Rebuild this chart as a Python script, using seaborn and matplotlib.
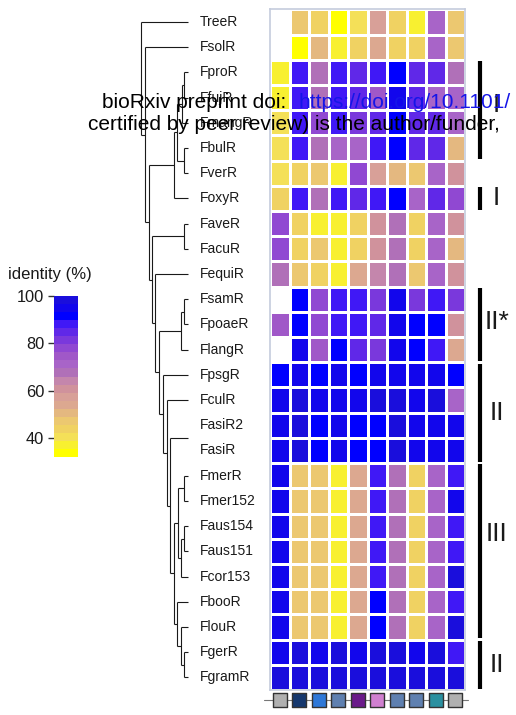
import numpy as np
import pandas as pd
import matplotlib
matplotlib.use("Agg")
import matplotlib.pyplot as plt
import seaborn as sns
from matplotlib.colors import ListedColormap

# ---------------- data ----------------
strains = ["TreeR", "FsolR", "FproR", "FfujR", "FmangR", "FbulR", "FverR", "FoxyR",
           "FaveR", "FacuR", "FequiR", "FsamR", "FpoaeR", "FlangR", "FpsgR", "FculR",
           "FasiR2", "FasiR", "FmerR", "Fmer152", "Faus154", "Faus151", "Fcor153",
           "FbooR", "FlouR", "FgerR", "FgramR"]
loci = [f"locus{i}" for i in range(1, 11)]
nan = np.nan
identity = [
    [nan, 47, 44, 34, 41, 57, 44, 37, 71, 47],   # TreeR
    [nan, 34, 51, 37, 44, 54, 44, 44, 71, 47],   # FsolR
    [37, 88, 68, 88, 85, 88, 91, 85, 85, 68],    # FproR
    [37, 88, 68, 88, 85, 74, 95, 85, 71, 71],    # FfujR
    [41, 88, 78, 88, 81, 85, 91, 85, 85, 71],    # FmangR
    [41, 88, 68, 71, 71, 88, 91, 85, 85, 51],    # FbulR
    [41, 44, 47, 37, 78, 57, 51, 47, 71, 61],    # FverR
    [44, 88, 68, 88, 85, 88, 91, 71, 85, 78],    # FoxyR
    [78, 44, 37, 37, 44, 61, 68, 44, 71, 61],    # FaveR
    [78, 44, 47, 37, 44, 61, 68, 44, 71, 51],    # FacuR
    [68, 47, 44, 37, 54, 64, 68, 47, 71, 61],    # FequiR
    [nan, 91, 78, 88, 88, 81, 95, 81, 88, 81],   # FsamR
    [74, 91, 78, 88, 88, 85, 95, 91, 91, 61],    # FpoaeR
    [nan, 95, 74, 91, 85, 81, 95, 91, 88, 54],   # FlangR
    [91, 95, 91, 95, 91, 95, 95, 95, 95, 91],    # FpsgR
    [95, 98, 95, 95, 95, 98, 98, 95, 98, 71],    # FculR
    [95, 98, 91, 95, 91, 91, 98, 95, 95, 95],    # FasiR2
    [95, 98, 91, 95, 91, 91, 98, 95, 95, 95],    # FasiR
    [95, 47, 47, 37, 54, 88, 68, 44, 71, 88],    # FmerR
    [95, 47, 47, 37, 54, 88, 68, 44, 71, 95],    # Fmer152
    [95, 47, 47, 37, 54, 88, 68, 44, 71, 88],    # Faus154
    [95, 47, 47, 37, 54, 88, 68, 44, 71, 88],    # Faus151
    [95, 47, 47, 37, 54, 88, 68, 44, 71, 98],    # Fcor153
    [95, 47, 47, 37, 54, 91, 68, 44, 71, 88],    # FbooR
    [95, 47, 47, 37, 54, 91, 68, 44, 71, 98],    # FlouR
    [95, 98, 95, 98, 95, 98, 98, 95, 98, 88],    # FgerR
    [98, 98, 98, 98, 98, 98, 98, 98, 98, 98],    # FgramR
]

# dendrogram merges: (node, child_a, child_b, height)
merges = [
    ("c1", "FproR", "FfujR", 4.0),
    ("c2", "c1", "FmangR", 6.6),
    ("c3", "FbulR", "FverR", 4.0),
    ("c4", "c2", "c3", 11.0),
    ("c5", "c4", "FoxyR", 14.6),
    ("c6", "FaveR", "FacuR", 4.0),
    ("c7", "FsamR", "FpoaeR", 4.0),
    ("c8", "c7", "FlangR", 7.6),
    ("c9", "FasiR2", "FasiR", 0.0),
    ("c10", "FmerR", "Fmer152", 4.0),
    ("c11", "Faus154", "Faus151", 4.0),
    ("c12", "c11", "Fcor153", 7.3),
    ("c13", "c10", "c12", 10.6),
    ("c14", "FgerR", "FgramR", 4.0),
    ("c15", "FlouR", "c14", 7.6),
    ("c16", "FbooR", "c15", 11.3),
    ("c17", "c13", "c16", 14.6),
    ("c18", "c9", "c17", 18.3),
    ("c19", "FculR", "c18", 21.6),
    ("c20", "FpsgR", "c19", 25.0),
    ("c21", "c8", "c20", 29.0),
    ("c22", "FequiR", "c21", 33.3),
    ("c23", "c6", "c22", 36.6),
    ("c24", "c5", "c23", 39.6),
    ("c25", "FsolR", "c24", 43.0),
    ("c26", "TreeR", "c25", 47.0),
]

group_labels = ["I", "I", "II*", "II", "III", "II"]
group_first = ["FproR", "FoxyR", "FsamR", "FpsgR", "FmerR", "FgerR"]
group_last = ["FbulR", "FoxyR", "FlangR", "FasiR", "FlouR", "FgramR"]

locus_colors = ["#B0B0B0", "#16386E", "#2E78D8", "#5F80B0", "#6A1A8A",
                "#D080D0", "#5F80B0", "#5F80B0", "#2A90A0", "#B0B0B0"]

scale_colors = ["#FFFF00", "#F8F030", "#F4E058", "#F0D262", "#ECC870",
                "#E4B880", "#DCA890", "#D8A098", "#D0929C", "#C486AC",
                "#B070B8", "#A864C8", "#A058C8", "#9048D2", "#7A38DC",
                "#6028E8", "#4018F6", "#0000FF", "#1206EC", "#1A0EDC"]
scale_min, scale_max = 32.2, 100

# ---------------- figure ----------------
sns.set_style("white")
plt.rcParams["font.family"] = ["Liberation Sans", "DejaVu Sans"]

W, H = 516, 715
fig = plt.figure(figsize=(W / 100, H / 100), dpi=100)

def box(x0, y0, x1, y1):
    return [x0 / W, 1 - y1 / H, (x1 - x0) / W, (y1 - y0) / H]

ax = fig.add_axes(box(270, 9.3, 465, 690))
tax = fig.add_axes(box(120, 9.3, 270, 690))
cax = fig.add_axes(box(54, 296, 78, 457))

df = pd.DataFrame(identity, index=strains, columns=loci)
cmap = ListedColormap(scale_colors)
sns.heatmap(df, ax=ax, cmap=cmap, vmin=scale_min, vmax=scale_max,
            linewidths=1.0, linecolor="white", cbar_ax=cax,
            xticklabels=False, yticklabels=False)
ax.set_xlabel("")
ax.set_ylabel("")
for sp in ax.spines.values():
    sp.set_visible(True)
    sp.set_color("#C5CCDD")
    sp.set_linewidth(1.2)

cbar = ax.collections[0].colorbar
cbar.outline.set_visible(False)
cbar.set_ticks([40, 60, 80, 100])
cax.yaxis.set_ticks_position("left")
cax.tick_params(axis="y", length=4, width=1, color="#333333",
                labelsize=11.8, labelcolor="#1a1a1a", pad=3)
fig.text(8 / W, 1 - 274 / H, "identity (%)", ha="left", va="center",
         fontsize=12, color="#1a1a1a")

# ---------------- dendrogram ----------------
pos = {name: (0.0, i + 0.5) for i, name in enumerate(strains)}
lkw = dict(color="#1a1a1a", lw=0.8, solid_capstyle="butt")
for node, a, b, h in merges:
    ha, ya = pos[a]
    hb, yb = pos[b]
    if h > 0:
        tax.plot([h, h], [ya, yb], **lkw)
        tax.plot([h, ha], [ya, ya], **lkw)
        tax.plot([h, hb], [yb, yb], **lkw)
    pos[node] = (h, (ya + yb) / 2)
for i, name in enumerate(strains):
    tax.text(-11.7, i + 0.5, name, ha="left", va="center", fontsize=10,
             color="#1a1a1a")
tax.set_xlim(68.3, -81.7)
tax.set_ylim(len(strains), 0)
tax.axis("off")

# ---------------- group brackets ----------------
label_y_shift = [-0.2, 0.0, -0.1, 0.0, -0.7, 0.0]
for lab, first, last, dy in zip(group_labels, group_first, group_last, label_y_shift):
    r0 = strains.index(first)
    r1 = strains.index(last) + 1
    ax.plot([10.77, 10.77], [r0 + 0.05, r1 - 0.05], color="black", lw=3.0,
            solid_capstyle="butt", clip_on=False)
    ax.text(11.62, (r0 + r1) / 2 + dy, lab, ha="center", va="center",
            fontsize=19, color="#1a1a1a", clip_on=False)

# ---------------- locus colour strip ----------------
ystrip = 27.4
ax.plot([-0.31, 10.15], [ystrip, ystrip], color="#777777", lw=0.8,
        clip_on=False, zorder=3)
ax.scatter(np.arange(len(loci)) + 0.5, [ystrip] * len(loci), marker="s",
           s=100, c=locus_colors, edgecolors="#333333", linewidths=1.0,
           clip_on=False, zorder=4)

# ---------------- watermark ----------------
fig.text(102 / W, 1 - 108 / H, "bioRxiv preprint doi: ", ha="left",
         va="baseline", fontsize=15, color="black")
fig.text(298 / W, 1 - 108 / H, "https://doi.org/10.1101/", ha="left",
         va="baseline", fontsize=15, color="#1515E8")
fig.text(88 / W, 1 - 130 / H, "certified by peer review) is the author/funder,",
         ha="left", va="baseline", fontsize=15, color="black")

fig.savefig("out.png", dpi=100)
